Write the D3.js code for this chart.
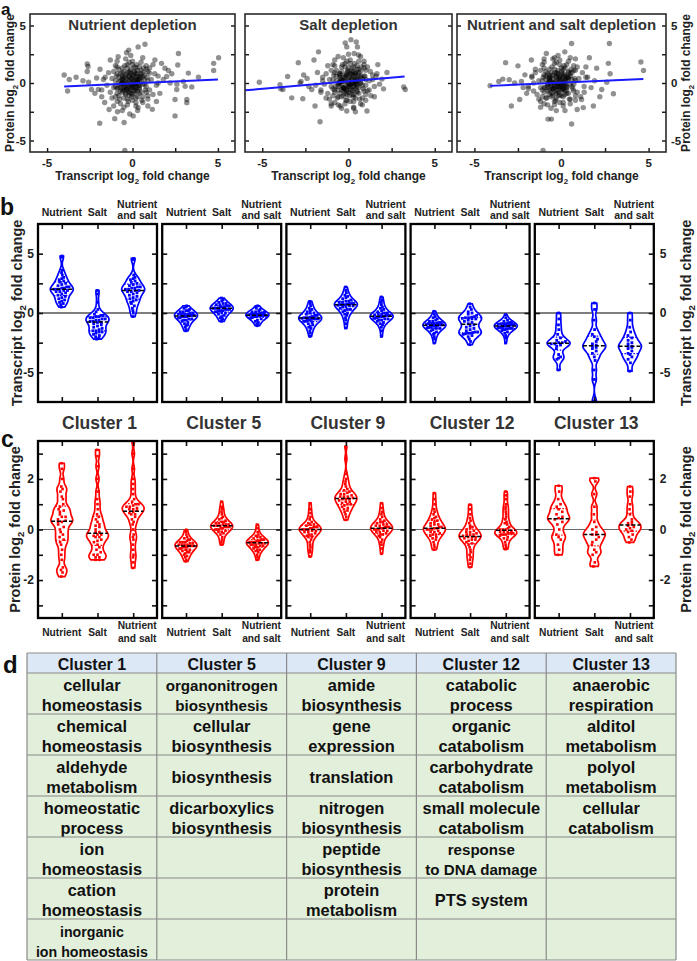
<!DOCTYPE html>
<html><head><meta charset="utf-8">
<script src="https://d3js.org/d3.v7.min.js"></script>
<style>html,body{margin:0;padding:0;background:#fff}svg{display:block}</style>
</head><body>
<svg id="fig" width="697" height="961" font-family="Arial, 'Liberation Sans', Helvetica, sans-serif"></svg>
<script>
// ---------------- DATA ----------------
const scatterTitles = ["Nutrient depletion", "Salt depletion", "Nutrient and salt depletion"];
const scatterTickLabels = [-5, 0, 5];
const scatterMinorTicks = [-5, -2.5, 0, 2.5, 5];

const nutrientPoints = [
[-4.0,0.7],[-3.8,-0.7],[-3.7,0.3],[-3.3,0.5],[-2.65,1.66],[-2.6,1.43],[-2.65,1.0],[-2.57,0.06],[-2.4,-0.57],[-2.1,0.43],[-2.0,-0.57],[-1.92,-3.5],[-1.63,-1.7],[-1.37,-2.3],[-1.04,-3.1],[-0.88,-2.5],[-0.49,-3.43],[-0.45,-5.86],[-0.16,-2.7],[0.04,-2.86],[0.33,-2.14],[0.73,3.37],[-0.35,2.63],[-0.22,2.86],[-0.84,2.29],[1.31,2.0],[1.16,-2.29],[1.7,1.71],[1.9,1.29],[2.1,1.09],[2.0,0.57],[2.2,0.0],[2.49,-1.43],[2.59,-0.57],[2.69,2.57],[2.49,-2.86],[2.65,1.57],[2.98,0.14],[3.18,-1.43],[3.18,-1.71],[3.27,0.86],[3.47,-0.34],[3.86,0.51],[4.75,1.71],[4.75,1.09],[5.04,2.2],[3.08,-0.29],[1.5,0.0],[1.0,0.86],[0.33,3.14],
[-2.2,-0.9],[-1.9,1.2],[-1.7,0.3],[-1.8,-1.2],[1.6,-0.9],[1.8,0.3],[1.4,-1.6],[2.3,0.8],[1.2,1.6],[-1.3,2.0],[0.9,-2.0],[-0.6,-2.4],[2.6,-0.1],[-2.9,0.2],
[-1.2,0.4],[-1.0,-0.3],[-0.9,0.8],[-0.8,-1.1],[-0.7,0.2],[-0.6,1.3],[-0.5,-0.6],[-0.4,0.5],[-0.3,-1.4],[-0.2,0.9],[-0.1,-0.2],[0.0,0.6],[0.1,-0.9],[0.2,0.3],[0.3,1.1],[0.4,-0.5],[0.5,0.1],[0.6,-1.2],[0.7,0.7],[0.8,-0.3],
[-1.3,-0.8],[-1.1,1.0],[-0.9,-1.6],[-0.7,-0.4],[-0.6,0.6],[-0.4,-1.0],[-0.3,1.6],[-0.2,-0.7],[-0.1,1.2],[0.0,-1.5],[0.1,0.9],[0.2,-0.4],[0.3,0.0],[0.4,1.4],[0.5,-0.8],[0.6,0.5],[0.9,1.0],[1.0,-0.6],[1.1,0.3],[1.2,-1.0],
[-0.8,0.1],[-0.5,-0.1],[-0.3,0.3],[-0.1,0.0],[0.1,0.2],[0.2,-0.1],[0.4,0.4],[-0.6,-0.8],[-0.2,-1.1],[0.3,-1.2],[0.0,1.9],[-0.4,2.1],[0.5,1.8],[-1.0,1.5],[0.8,1.5],[-1.5,-0.2],[-1.4,0.9],[1.3,0.8],[1.0,1.3],[-0.7,-1.8],
[0.2,-2.0],[-0.5,-2.1],[0.6,-1.7],[-1.2,-1.3],[0.9,-1.4],[-0.9,-0.5],[-0.4,-0.3],[0.1,-0.6],[0.5,0.8],[0.7,-0.1],[-0.2,0.5],[-0.6,0.0],[0.0,0.2],[-0.3,-0.5],[0.3,0.6],[-0.8,0.5],[0.4,-0.2],[-0.1,-0.9],[0.2,1.3],[-0.5,1.0],
[-1.6,0.5],[-1.8,-0.6],[1.4,-0.2],[1.5,0.6],[-0.1,2.4],[0.3,-2.4],[-1.1,-2.0],[0.9,0.2],[-0.9,1.9],[0.6,2.2],
[-0.6,0.3],[-0.5,-0.4],[-0.4,0.7],[-0.3,-0.2],[-0.2,0.2],[-0.1,-0.6],[0.0,0.4],[0.1,-0.3],[0.2,0.8],[0.3,-0.7],[0.4,0.2],[-0.6,-0.6],[-0.3,0.9],[0.0,-1.0],[0.2,0.0],[-0.4,-0.9],[0.5,0.5],[-0.7,0.8],[0.1,1.0],[-0.2,-0.3],[0.3,0.3],[-0.5,0.5],[0.0,0.0],[-0.1,0.8],[0.2,-0.5],
[-1.0,0.2],[-0.9,-0.9],[-0.8,1.2],[-0.7,-0.2],[-0.6,0.9],[-0.5,-1.3],[-0.4,0.1],[-0.3,1.3],[-0.2,-0.8],[-0.1,0.4],[0.0,-0.4],[0.1,1.4],[0.2,-1.3],[0.3,0.8],[0.4,-0.9],[0.5,1.1],[0.6,-0.1],[0.7,0.3],[0.8,-0.8],[-1.1,-0.4],
[-0.95,0.6],[-0.75,-1.4],[-0.55,0.2],[-0.45,1.5],[-0.35,-0.6],[-0.25,-1.6],[-0.15,1.0],[-0.05,-1.2],[0.05,0.7],[0.15,-0.7],[0.25,1.6],[0.35,-0.2],[0.45,0.6],[0.55,-1.5],[0.65,1.3],[0.75,-0.6],[0.85,0.5],[-0.65,-0.1],[-0.85,-0.4],[0.0,1.6],
[-0.5,0.0],[-0.2,0.6],[0.1,-0.1],[0.3,0.2],[-0.4,-0.5],[-0.1,-0.4],[0.2,0.5],[-0.6,0.4],[0.0,-0.2],[-0.3,0.0],[0.4,-0.4],[-0.7,-0.7],[0.6,0.9],[-0.2,1.8],[0.2,-1.7],[-0.9,1.4],[0.9,-1.1],[-1.0,-1.2],[0.8,1.2],[-0.3,-1.9]
];
const saltPoints = [
[-5.17,0.06],[-3.97,-0.14],[-3.93,-0.51],[-3.8,-0.57],[-3.53,0.57],[-3.29,-1.29],[-2.91,1.77],[-2.81,0.0],[-2.75,0.14],[-2.65,-1.37],[-2.13,-0.57],[-2.0,2.0],[-1.94,-2.0],[-1.8,0.91],[-1.74,2.71],[-1.65,-3.37],[-0.19,3.49],[-0.1,3.14],[0.14,3.77],[0.45,3.57],[0.52,3.14],[0.33,2.57],[0.58,2.43],[1.07,-2.43],[1.26,1.0],[1.65,0.8],[1.94,0.34],[2.03,-0.51],[2.23,0.91],[3.2,-0.34],[3.29,-0.57],[-0.1,-2.43],[-0.48,-2.0],
[-2.4,0.4],[-2.3,-0.3],[-1.6,-0.8],[-1.5,0.2],[-1.9,-0.2],[1.5,-1.2],[1.7,1.6],[1.4,0.3],[1.2,-0.6],[-1.2,1.5],[-1.0,-1.8],[0.9,1.9],[0.8,-1.9],[-0.6,2.3],[0.3,-2.2],[-2.6,0.7],[1.8,-0.1],[-1.3,-1.3],
[-1.1,0.3],[-0.9,-0.5],[-0.8,0.9],[-0.6,-1.2],[-0.5,0.1],[-0.4,1.4],[-0.3,-0.7],[-0.2,0.5],[-0.1,-1.5],[0.0,1.0],[0.1,-0.1],[0.2,0.7],[0.3,-1.0],[0.4,0.2],[0.5,1.2],[0.6,-0.4],[0.7,0.0],[0.8,-1.3],[0.9,0.6],[1.0,-0.2],
[-1.2,-0.9],[-1.0,1.1],[-0.8,-1.7],[-0.6,-0.3],[-0.5,0.7],[-0.3,-1.1],[-0.2,1.7],[-0.1,-0.6],[0.0,1.3],[0.1,-1.6],[0.2,1.0],[0.3,-0.3],[0.4,0.1],[0.5,1.5],[0.6,-0.9],[0.7,0.6],[1.0,1.1],[1.1,-0.7],[1.2,0.2],[1.3,-1.1],
[-0.7,0.2],[-0.4,-0.2],[-0.2,0.2],[0.0,-0.1],[0.2,0.3],[0.3,0.0],[0.5,0.4],[-0.5,-0.9],[-0.1,-1.0],[0.4,-1.3],[0.1,2.0],[-0.3,2.2],[0.6,1.9],[-0.9,1.6],[0.9,1.6],[-1.4,-0.1],[-1.3,0.8],[1.4,0.7],[1.1,1.4],[-0.6,-1.9],
[0.3,-2.1],[-0.4,-2.2],[0.7,-1.8],[-1.1,-1.4],[1.0,-1.5],[-0.8,-0.6],[-0.3,-0.4],[0.2,-0.7],[0.6,0.9],[0.8,-0.2],[-0.1,0.6],[-0.5,0.0],[0.1,0.3],[-0.2,-0.5],[0.4,0.7],[-0.7,0.6],[0.5,-0.1],[0.0,-0.8],[0.3,1.4],[-0.4,1.0],
[-1.5,0.5],[-1.6,-0.6],[1.5,-0.3],[1.6,0.6],[0.0,2.5],[0.4,-2.5],[-1.0,-2.0],[1.0,0.3],[-0.8,2.0],[0.7,2.3],
[-0.4,0.3],[-0.3,-0.4],[-0.2,0.7],[-0.1,-0.2],[0.0,0.2],[0.1,-0.6],[0.2,0.4],[0.3,-0.3],[0.4,0.8],[0.5,-0.7],[0.6,0.2],[-0.4,-0.6],[-0.1,0.9],[0.2,-1.0],[0.4,0.0],[-0.2,-0.9],[0.7,0.5],[-0.5,0.8],[0.3,1.0],[0.0,-0.3],[0.5,0.3],[-0.3,0.5],[0.2,0.0],[0.1,0.8],[0.4,-0.5],
[-0.9,0.3],[-0.8,-0.8],[-0.7,1.1],[-0.6,-0.1],[-0.5,0.8],[-0.4,-1.2],[-0.3,0.2],[-0.2,1.4],[-0.1,-0.7],[0.0,0.5],[0.1,-0.3],[0.2,1.3],[0.3,-1.2],[0.4,0.9],[0.5,-0.8],[0.6,1.2],[0.7,0.0],[0.8,0.4],[0.9,-0.7],[-1.0,-0.3],
[-0.85,0.7],[-0.65,-1.3],[-0.45,0.3],[-0.35,1.6],[-0.25,-0.5],[-0.15,-1.5],[-0.05,1.1],[0.05,-1.1],[0.15,0.8],[0.25,-0.6],[0.35,1.7],[0.45,-0.1],[0.55,0.7],[0.65,-1.4],[0.75,1.4],[0.85,-0.5],[0.95,0.6],[-0.55,0.0],[-0.75,-0.3],[0.1,1.7],
[-0.4,0.1],[-0.1,0.7],[0.2,0.0],[0.4,0.3],[-0.3,-0.4],[0.0,-0.3],[0.3,0.6],[-0.5,0.5],[0.1,-0.1],[-0.2,0.1],[0.5,-0.3],[-0.6,-0.6],[0.7,1.0],[-0.1,1.9],[0.3,-1.6],[-0.8,1.5],[1.0,-1.0],[-0.9,-1.1],[0.9,1.3],[-0.2,-1.8]
];
const bothPoints = [
[-4.1,-0.23],[-3.6,0.14],[-3.37,0.34],[-3.21,1.77],[-2.88,-2.0],[-3.0,0.29],[-2.69,0.0],[-2.5,1.49],[-2.4,-1.43],[-2.3,0.14],[-2.1,0.71],[-1.9,-0.29],[-1.73,2.0],[-0.77,-3.14],[-0.58,-3.14],[-1.06,-5.86],[0.58,-3.57],[0.58,3.43],[-0.87,2.57],[0.19,2.71],[2.02,1.29],[2.69,1.71],[2.75,3.43],[2.98,-0.94],[2.79,0.8],[2.31,-0.57],[2.6,0.06],[4.56,1.83],[4.71,1.09],[1.83,-2.0],[1.25,-2.14],[1.15,-1.43],
[-1.6,-0.7],[-1.7,0.5],[-1.5,1.2],[-2.0,-0.9],[1.5,0.5],[1.7,-0.4],[1.4,1.4],[1.9,0.2],[1.3,-0.8],[-1.2,-1.6],[-1.0,1.8],[0.8,2.1],[0.9,-2.3],[-0.3,-2.4],[2.2,-1.2],[-2.2,-0.4],[1.6,2.2],[-0.4,2.2],
[-1.3,0.2],[-1.1,-0.6],[-1.0,0.7],[-0.9,-1.3],[-0.8,0.0],[-0.7,1.2],[-0.6,-0.8],[-0.5,0.4],[-0.4,-1.6],[-0.3,0.8],[-0.2,-0.3],[-0.1,0.5],[0.0,-1.1],[0.1,0.1],[0.2,1.3],[0.3,-0.6],[0.4,0.3],[0.5,-1.4],[0.6,0.9],[0.7,-0.1],
[-1.4,-1.0],[-1.2,1.1],[-1.0,-1.8],[-0.8,-0.4],[-0.7,0.5],[-0.5,-1.1],[-0.4,1.7],[-0.3,-0.9],[-0.2,1.1],[-0.1,-1.7],[0.0,0.8],[0.1,-0.5],[0.2,-0.1],[0.3,1.6],[0.4,-0.9],[0.5,0.6],[0.8,1.1],[0.9,-0.8],[1.0,0.4],[1.1,-1.2],
[-0.9,0.3],[-0.6,-0.2],[-0.4,0.1],[-0.2,0.0],[0.0,0.3],[0.1,-0.2],[0.3,0.5],[-0.7,-1.0],[-0.3,-1.3],[0.2,-1.0],[-0.1,2.0],[-0.5,2.1],[0.4,1.9],[-1.1,1.6],[0.7,1.5],[-1.6,0.0],[-1.5,0.9],[1.2,0.9],[0.9,1.4],[-0.8,-1.9],
[0.1,-2.0],[-0.6,-2.2],[0.5,-1.8],[-1.3,-1.4],[0.8,-1.5],[-1.0,-0.4],[-0.5,-0.5],[0.0,-0.6],[0.4,0.9],[0.6,-0.3],[-0.3,0.6],[-0.7,0.1],[-0.1,0.2],[-0.4,-0.4],[0.2,0.6],[-0.9,0.6],[0.3,-0.3],[-0.2,-0.8],[0.1,1.2],[-0.6,0.9],
[-1.7,0.6],[-1.9,-0.5],[1.3,-0.3],[1.4,0.5],[-0.2,2.4],[0.2,-2.4],[-1.2,-2.1],[0.8,0.2],[-1.0,2.1],[0.5,2.2],
[-0.7,0.3],[-0.6,-0.4],[-0.5,0.7],[-0.4,-0.2],[-0.3,0.2],[-0.2,-0.6],[-0.1,0.4],[0.0,-0.3],[0.1,0.8],[0.2,-0.7],[0.3,0.2],[-0.7,-0.6],[-0.4,0.9],[-0.1,-1.0],[0.1,0.0],[-0.5,-0.9],[0.4,0.5],[-0.8,0.8],[0.0,1.0],[-0.3,-0.3],[0.2,0.3],[-0.6,0.5],[-0.1,0.0],[-0.2,0.8],[0.1,-0.5],
[-1.1,0.2],[-1.0,-0.8],[-0.9,1.0],[-0.8,-0.2],[-0.7,0.7],[-0.6,-1.2],[-0.5,0.0],[-0.4,1.2],[-0.3,-0.7],[-0.2,0.4],[-0.1,-0.4],[0.0,1.3],[0.1,-1.2],[0.2,0.7],[0.3,-0.9],[0.4,1.0],[0.5,-0.1],[0.6,0.3],[0.7,-0.7],[-1.2,-0.4],
[-1.05,0.5],[-0.85,-1.3],[-0.65,0.2],[-0.55,1.4],[-0.45,-0.5],[-0.35,-1.5],[-0.25,0.9],[-0.15,-1.1],[-0.05,0.6],[0.05,-0.6],[0.15,1.5],[0.25,-0.2],[0.35,0.5],[0.45,-1.4],[0.55,1.2],[0.65,-0.5],[0.75,0.4],[-0.75,-0.1],[-0.95,-0.4],[-0.1,1.6],
[-0.6,0.0],[-0.3,0.5],[0.0,-0.1],[0.2,0.2],[-0.5,-0.5],[-0.2,-0.3],[0.1,0.5],[-0.7,0.4],[-0.1,-0.2],[-0.4,0.0],[0.3,-0.4],[-0.8,-0.7],[0.5,0.8],[-0.3,1.8],[0.1,-1.7],[-1.0,1.3],[0.8,-1.1],[-1.1,-1.2],[0.7,1.1],[-0.4,-1.9]
];
// fitted regression lines: [xStart, yStart, xEnd, yEnd]
const fitLines = [[-4.0,-0.3,5.0,0.3],[-6.0,-0.64,3.25,0.57],[-4.1,-0.25,4.7,0.35]];

const conditions = ["Nutrient", "Salt", "Nutrient and salt"];
const clusters = ["Cluster 1", "Cluster 5", "Cluster 9", "Cluster 12", "Cluster 13"];

// Transcript log2 fold change per gene: [Nutrient, Salt, Nutrient and salt]
const transcriptCluster1 = [
 [4.8,4.7,3.6,3.4,3.2,3.0,2.9,2.8,2.7,2.6,2.5,2.4,2.3,2.2,2.2,2.1,2.1,2.0,2.0,2.0,1.9,1.9,1.8,1.8,1.7,1.6,1.5,1.4,1.3,1.2,1.1,1.0,0.9,0.8,0.7,0.5],
 [1.9,1.6,0.9,0.3,0.1,-0.1,-0.2,-0.3,-0.3,-0.4,-0.4,-0.5,-0.5,-0.6,-0.6,-0.7,-0.7,-0.8,-0.8,-0.9,-1.0,-1.1,-1.2,-1.3,-1.4,-1.5,-1.5,-1.6,-1.6,-1.7,-1.8,-1.9,-2.0,-2.1,-2.2,-0.2],
 [4.6,4.5,3.2,3.0,2.9,2.8,2.7,2.6,2.5,2.4,2.3,2.2,2.2,2.1,2.1,2.0,2.0,1.9,1.9,1.8,1.8,1.7,1.6,1.5,1.4,1.3,1.2,1.1,1.0,0.9,0.8,0.6,0.4,0.2,0.0,-0.3]];
const transcriptCluster5 = [
 [0.6,0.5,0.4,0.3,0.2,0.1,0.1,0.0,0.0,-0.1,-0.1,-0.1,-0.2,-0.2,-0.2,-0.2,-0.3,-0.3,-0.3,-0.4,-0.4,-0.5,-0.5,-0.6,-0.6,-0.7,-0.8,-0.9,-1.0,-1.1,-1.2,-1.4,-1.5,0.2,-0.3,-0.1],
 [1.26,1.1,1.0,0.9,0.8,0.8,0.7,0.7,0.6,0.6,0.5,0.5,0.5,0.4,0.4,0.4,0.3,0.3,0.3,0.2,0.2,0.1,0.1,0.0,0.0,-0.1,-0.2,-0.3,-0.4,-0.5,-0.6,-0.7,0.4,0.6,0.2,0.5],
 [0.6,0.4,0.3,0.2,0.1,0.1,0.0,0.0,0.0,-0.1,-0.1,-0.1,-0.1,-0.2,-0.2,-0.2,-0.2,-0.3,-0.3,-0.3,-0.4,-0.4,-0.5,-0.6,-0.7,-0.8,-0.9,-1.0,-1.07,-0.15,-0.05,-0.25,0.05,-0.35,-0.1,-0.2]];
const transcriptCluster9 = [
 [0.98,0.8,0.6,0.4,0.3,0.2,0.1,0.0,0.0,-0.1,-0.2,-0.2,-0.3,-0.3,-0.4,-0.4,-0.4,-0.5,-0.5,-0.5,-0.6,-0.6,-0.7,-0.7,-0.8,-0.9,-1.0,-1.1,-1.2,-1.3,-1.5,-1.7,-1.97,-0.45,-0.35,-0.55],
 [2.19,1.9,1.7,1.5,1.4,1.3,1.2,1.1,1.0,1.0,0.9,0.9,0.8,0.8,0.8,0.7,0.7,0.7,0.6,0.6,0.5,0.5,0.4,0.3,0.3,0.2,0.1,0.0,-0.1,-0.2,-0.4,-0.6,-0.9,-1.27,0.75,0.65],
 [1.35,1.1,0.9,0.7,0.5,0.4,0.3,0.2,0.1,0.0,0.0,-0.1,-0.1,-0.2,-0.2,-0.2,-0.3,-0.3,-0.3,-0.4,-0.4,-0.5,-0.5,-0.6,-0.6,-0.7,-0.8,-0.9,-1.0,-1.2,-1.5,-1.97,-0.25,-0.35,-0.15,-0.45]];
const transcriptCluster12 = [
 [0.14,-0.1,-0.3,-0.4,-0.5,-0.6,-0.7,-0.7,-0.8,-0.8,-0.9,-0.9,-0.9,-1.0,-1.0,-1.0,-1.1,-1.1,-1.1,-1.2,-1.2,-1.3,-1.3,-1.4,-1.5,-1.6,-1.7,-1.8,-2.0,-2.2,-2.53,-0.95,-1.05,-1.15,-0.85,-1.25],
 [0.78,0.5,0.3,0.1,0.0,-0.1,-0.2,-0.3,-0.4,-0.4,-0.5,-0.5,-0.6,-0.7,-0.8,-0.9,-1.0,-1.1,-1.2,-1.3,-1.4,-1.5,-1.6,-1.6,-1.7,-1.7,-1.8,-1.9,-2.0,-2.2,-2.4,-2.67,-0.45,-0.35,-1.65,-1.75],
 [-0.14,-0.4,-0.6,-0.7,-0.8,-0.8,-0.9,-0.9,-0.9,-1.0,-1.0,-1.0,-1.0,-1.1,-1.1,-1.1,-1.1,-1.2,-1.2,-1.2,-1.3,-1.3,-1.4,-1.4,-1.5,-1.6,-1.7,-1.9,-2.1,-2.53,-1.05,-0.95,-1.15,-1.25,-0.85,-1.35]];
const transcriptCluster13 = [
 [0.0,-0.5,-1.0,-1.4,-1.8,-2.1,-2.3,-2.4,-2.5,-2.5,-2.6,-2.6,-2.7,-2.8,-3.0,-3.5,-3.7,-3.8,-3.9,-4.8],
 [0.84,0.3,-0.6,-1.4,-1.8,-2.0,-2.2,-2.4,-2.6,-2.7,-2.8,-2.9,-3.0,-3.2,-3.4,-3.7,-4.0,-4.8,-5.6,-7.4],
 [0.0,-0.6,-1.2,-1.6,-1.9,-2.1,-2.3,-2.5,-2.6,-2.8,-2.8,-2.9,-3.0,-3.2,-3.4,-3.5,-3.7,-3.9,-4.2,-4.9]];

// Protein log2 fold change per gene: [Nutrient, Salt, Nutrient and salt]
const proteinCluster1 = [
 [2.62,2.4,2.0,1.7,1.6,1.5,1.3,1.2,1.0,0.9,0.8,0.7,0.6,0.5,0.5,0.4,0.3,0.3,0.2,0.1,0.0,-0.1,-0.2,-0.3,-0.4,-0.5,-0.6,-0.8,-1.0,-1.2,-1.5,-1.6,-1.7,-1.86,0.35,0.75],
 [3.15,2.9,2.5,2.0,1.5,1.2,1.0,0.8,0.6,0.5,0.4,0.3,0.2,0.1,0.0,-0.1,-0.1,-0.2,-0.2,-0.3,-0.3,-0.4,-0.5,-0.6,-0.7,-0.8,-0.9,-1.0,-1.0,-1.1,-1.1,-1.2,-1.2,0.15,-0.25,-0.45],
 [3.48,3.0,2.4,2.0,1.8,1.6,1.4,1.2,1.1,1.0,1.0,0.9,0.9,0.8,0.8,0.7,0.6,0.6,0.5,0.4,0.3,0.2,0.0,-0.2,-0.3,-0.4,-0.6,-0.8,-1.0,-1.1,-1.3,-1.52,0.95,0.85,0.65,0.75]];
const proteinCluster5 = [
 [-0.01,-0.1,-0.2,-0.3,-0.35,-0.4,-0.45,-0.5,-0.5,-0.55,-0.6,-0.6,-0.6,-0.65,-0.65,-0.7,-0.7,-0.7,-0.75,-0.8,-0.8,-0.85,-0.9,-0.95,-1.0,-1.05,-1.1,-1.2,-1.26,-0.55,-0.75,-0.5,-0.4,-0.9,-0.65,-0.6],
 [1.1,0.9,0.8,0.7,0.6,0.5,0.45,0.4,0.35,0.3,0.25,0.2,0.2,0.15,0.15,0.1,0.1,0.05,0.0,0.0,-0.05,-0.1,-0.15,-0.2,-0.3,-0.4,-0.5,-0.6,0.25,0.1,0.3,0.05,0.2,-0.1,0.15,0.0],
 [0.19,0.05,-0.1,-0.2,-0.25,-0.3,-0.35,-0.4,-0.4,-0.45,-0.45,-0.5,-0.5,-0.5,-0.55,-0.55,-0.6,-0.6,-0.65,-0.7,-0.7,-0.75,-0.8,-0.85,-0.9,-1.0,-1.1,-1.2,-0.5,-0.4,-0.6,-0.3,-0.55,-0.65,-0.45,-0.8]];
const proteinCluster9 = [
 [1.04,0.8,0.65,0.5,0.4,0.3,0.25,0.2,0.15,0.1,0.1,0.05,0.0,0.0,0.0,-0.05,-0.1,-0.1,-0.15,-0.2,-0.25,-0.3,-0.4,-0.5,-0.6,-0.7,-0.8,-0.9,-1.07,0.05,-0.05,0.1,0.2,-0.2,0.0,-0.3],
 [3.28,2.8,2.2,2.0,1.9,1.8,1.7,1.6,1.55,1.5,1.45,1.4,1.35,1.3,1.3,1.25,1.2,1.2,1.15,1.1,1.05,1.0,0.95,0.9,0.85,0.8,0.75,0.7,0.6,0.5,0.38,1.3,1.1,1.4,1.2,1.0],
 [1.04,0.85,0.7,0.6,0.5,0.4,0.35,0.3,0.25,0.2,0.15,0.1,0.1,0.05,0.05,0.0,0.0,-0.05,-0.1,-0.15,-0.2,-0.25,-0.3,-0.4,-0.5,-0.6,-0.75,-0.96,0.1,0.2,-0.1,0.0,0.3,-0.2,0.15,-0.05]];
const proteinCluster12 = [
 [1.44,1.2,1.0,0.8,0.7,0.6,0.5,0.45,0.4,0.35,0.3,0.25,0.2,0.15,0.1,0.05,0.0,0.0,-0.05,-0.1,-0.15,-0.2,-0.25,-0.3,-0.35,-0.4,-0.5,-0.6,-0.7,-0.8,0.1,0.0,-0.1,0.2,-0.2,0.05],
 [0.98,0.8,0.6,0.45,0.35,0.25,0.15,0.1,0.05,0.0,-0.05,-0.1,-0.15,-0.2,-0.2,-0.25,-0.3,-0.3,-0.35,-0.4,-0.45,-0.5,-0.55,-0.6,-0.7,-0.8,-0.9,-1.0,-1.1,-1.2,-1.35,-1.49,-0.2,-0.3,-0.1,-0.4],
 [1.5,1.35,1.2,1.0,0.9,0.8,0.7,0.6,0.5,0.4,0.3,0.25,0.2,0.1,0.05,0.0,0.0,-0.05,-0.1,-0.1,-0.15,-0.15,-0.2,-0.2,-0.25,-0.3,-0.35,-0.4,-0.5,-0.6,-0.7,-0.78,-0.1,-0.2,0.0,-0.15]];
const proteinCluster13 = [
 [1.73,1.5,1.2,1.0,0.9,0.8,0.7,0.6,0.5,0.45,0.4,0.3,0.2,0.0,-0.2,-0.3,-0.4,-0.6,-0.8,-1.0],
 [2.03,1.9,1.4,0.9,0.6,0.3,0.1,0.0,-0.1,-0.2,-0.2,-0.3,-0.4,-0.5,-0.6,-0.8,-0.9,-1.0,-1.3,-1.46],
 [1.7,1.5,1.3,1.0,0.8,0.6,0.4,0.3,0.25,0.2,0.15,0.1,0.05,0.0,-0.05,-0.1,-0.2,-0.3,-0.4,-0.51]];

const transcriptTicks = [-5, -2.5, 0, 2.5, 5], transcriptTickLabels = [-5, 0, 5];
const proteinTicks = [-3, -2, -1, 0, 1, 2, 3], proteinTickLabels = [-2, 0, 2];

// Enriched terms (panel d)
const cluster1Terms = ["cellular\nhomeostasis","chemical\nhomeostasis","aldehyde\nmetabolism","homeostatic\nprocess","ion\nhomeostasis","cation\nhomeostasis","inorganic\nion homeostasis"];
const cluster5Terms = ["organonitrogen\nbiosynthesis","cellular\nbiosynthesis","biosynthesis","dicarboxylics\nbiosynthesis","","",""];
const cluster9Terms = ["amide\nbiosynthesis","gene\nexpression","translation","nitrogen\nbiosynthesis","peptide\nbiosynthesis","protein\nmetabolism",""];
const cluster12Terms = ["catabolic\nprocess","organic\ncatabolism","carbohydrate\ncatabolism","small molecule\ncatabolism","response\nto DNA damage","PTS system",""];
const cluster13Terms = ["anaerobic\nrespiration","alditol\nmetabolism","polyol\nmetabolism","cellular\ncatabolism","","",""];

// ---------------- DRAWING ----------------
const svg = d3.select("#fig");
const ink = "#222";
const defs = svg.append("defs");

function log2Text(g, x, y, rot, prefix, size) {
  const t = g.append("text").attr("transform", `translate(${x},${y}) rotate(${rot})`)
    .attr("text-anchor", "middle").attr("font-size", size).attr("font-weight", "bold").attr("fill", ink);
  t.append("tspan").text(prefix + " log");
  t.append("tspan").attr("dy", size * 0.3).attr("font-size", size * 0.66).text("2");
  t.append("tspan").attr("dy", -size * 0.3).text(" fold change");
}
function panelLetter(ch, x, y, size) {
  svg.append("text").attr("x", x).attr("y", y).attr("font-size", size).attr("font-weight", "bold").attr("fill", "#111").text(ch);
}
function styleTicks(sel, w) {
  sel.select(".domain").remove();
  sel.selectAll(".tick line").attr("stroke", "#111").attr("stroke-width", w);
}

// ----- Panel a -----
const aBoxes = [[30, 235], [245, 452], [457, 666]], aTop = 14, aBottom = 152;
const aY = d3.scaleLinear().domain([-6, 6]).range([aBottom, aTop]);
[nutrientPoints, saltPoints, bothPoints].forEach((pts, i) => {
  const [l, r] = aBoxes[i];
  const x = d3.scaleLinear().domain([-6, 6]).range([l, r]);
  const g = svg.append("g");
  defs.append("clipPath").attr("id", "clipA" + i).append("rect")
    .attr("x", l).attr("y", aTop).attr("width", r - l).attr("height", aBottom - aTop);
  g.append("g").attr("clip-path", `url(#clipA${i})`).selectAll("circle").data(pts).join("circle")
    .attr("cx", d => x(d[0])).attr("cy", d => aY(d[1])).attr("r", 2.7)
    .attr("fill", "#000").attr("fill-opacity", 0.43);
  const f = fitLines[i];
  g.append("line").attr("x1", x(f[0])).attr("y1", aY(f[1])).attr("x2", x(f[2])).attr("y2", aY(f[3]))
    .attr("stroke", "#1a1aff").attr("stroke-width", 2);
  g.append("g").attr("transform", `translate(0,${aBottom})`)
    .call(d3.axisTop(x).tickValues(scatterMinorTicks).tickSize(4).tickFormat("")).call(s => styleTicks(s, 1.4));
  g.append("g").attr("transform", `translate(${l},0)`)
    .call(d3.axisRight(aY).tickValues(scatterMinorTicks).tickSize(4).tickFormat("")).call(s => styleTicks(s, 1.4));
  g.append("g").attr("transform", `translate(${r},0)`)
    .call(d3.axisLeft(aY).tickValues(scatterMinorTicks).tickSize(4).tickFormat("")).call(s => styleTicks(s, 1.4));
  g.append("rect").attr("x", l).attr("y", aTop).attr("width", r - l).attr("height", aBottom - aTop)
    .attr("fill", "none").attr("stroke", "#2a2a2a").attr("stroke-width", 1.6);
  g.selectAll(".xl").data(scatterTickLabels).join("text").attr("x", d => x(d)).attr("y", 166.5)
    .attr("text-anchor", "middle").attr("font-size", 11.5).attr("font-weight", "bold").attr("fill", ink).text(d => d);
  g.append("text").attr("x", (l + r) / 2).attr("y", 29.5).attr("text-anchor", "middle")
    .attr("font-size", 15).attr("font-weight", "bold").attr("fill", "#333").text(scatterTitles[i]);
  log2Text(g, (l + r) / 2, 180, 0, "Transcript", 12);
  if (i === 0) {
    g.selectAll(".yl").data(scatterTickLabels).join("text").attr("x", 26).attr("y", d => aY(d) + 4)
      .attr("text-anchor", "end").attr("font-size", 11.5).attr("font-weight", "bold").attr("fill", ink).text(d => d);
    log2Text(g, 14, (aTop + aBottom) / 2, -90, "Protein", 12);
  }
  if (i === 2) {
    g.selectAll(".yr").data(scatterTickLabels).join("text").attr("x", 671).attr("y", d => aY(d) + 4)
      .attr("text-anchor", "start").attr("font-size", 11.5).attr("font-weight", "bold").attr("fill", ink).text(d => d);
    log2Text(g, 690, (aTop + aBottom) / 2, -90, "Protein", 12);
  }
});
panelLetter("a", 1, 15, 17);

// ----- Violin rows (b, c) -----
const panelLeft = i => 38 + i * 124.2, panelW = 119;
function violinRow(o) {
  const y = d3.scaleLinear().domain(o.domain).range([o.bottom, o.top]);
  o.data.forEach((groups, ci) => {
    const l = panelLeft(ci), r = l + panelW;
    const x = d3.scalePoint().domain(conditions).range([l, r]).padding(0.667);
    const g = svg.append("g");
    g.append("line").attr("x1", l).attr("x2", r).attr("y1", y(0)).attr("y2", y(0))
      .attr("stroke", o.zeroColor).attr("stroke-width", 1.1);
    groups.forEach((vals, k) => {
      const cx = x(conditions[k]);
      const lo = d3.min(vals), hi = d3.max(vals), N = 80;
      const grid = d3.range(N + 1).map(j => lo + (hi - lo) * j / N);
      const dens = grid.map(v => d3.sum(vals, u => Math.exp(-0.5 * ((v - u) / o.bw) ** 2)));
      const m = d3.max(dens);
      const prof = grid.map((v, j) => [v, o.maxW * dens[j] / m]);
      const widthAt = v => {
        const j = Math.max(0, Math.min(N - 1, Math.floor((v - lo) / (hi - lo) * N)));
        const t = Math.max(0, Math.min(1, (v - grid[j]) / (grid[j + 1] - grid[j])));
        return prof[j][1] * (1 - t) + prof[j + 1][1] * t;
      };
      g.append("path").datum(prof)
        .attr("d", d3.area().curve(d3.curveBasis).y(d => y(d[0])).x0(d => cx - d[1]).x1(d => cx + d[1]))
        .attr("fill", "#fff").attr("stroke", o.color).attr("stroke-width", 1.7);
      const sorted = vals.slice().sort((a, b) => a - b);
      const pts = sorted.map((v, i) => ({ v, i, py: y(v) }));
      const bins = d3.group(pts, d => Math.round(d.py / 3.2));
      bins.forEach(arr => {
        const n = arr.length;
        arr.forEach((d, j) => {
          const w = Math.max(0.5, widthAt(d.v) - 2.2);
          let off;
          if (n === 1) off = (((d.i * 3) % 5) - 2) / 2 * w * 0.55;
          else off = (j - (n - 1) / 2) * Math.min(3.8, 2 * w / n);
          d.px = cx + Math.max(-w, Math.min(w, off));
        });
      });
      const ps = o.ptSize;
      g.selectAll(null).data(pts).join("rect")
        .attr("x", d => d.px - ps / 2).attr("y", d => d.py - ps / 2).attr("width", ps).attr("height", ps)
        .attr("fill", o.color);
      const q1 = d3.quantile(sorted, 0.25), md = d3.quantile(sorted, 0.5), q3 = d3.quantile(sorted, 0.75);
      [q1, q3].forEach(q => {
        const w = widthAt(q);
        g.append("line").attr("x1", cx - w).attr("x2", cx + w).attr("y1", y(q)).attr("y2", y(q))
          .attr("stroke", o.color).attr("stroke-width", 1.2).attr("stroke-dasharray", "1.5,1.5");
      });
      const wm = widthAt(md);
      g.append("line").attr("x1", cx - wm).attr("x2", cx + wm).attr("y1", y(md)).attr("y2", y(md))
        .attr("stroke", "#000").attr("stroke-width", 1.5).attr("stroke-dasharray", "4,2");
    });
    g.append("g").attr("transform", `translate(${l},0)`)
      .call(d3.axisRight(y).tickValues(o.ticks).tickSize(5).tickFormat("")).call(s => styleTicks(s, 1.6));
    g.append("g").attr("transform", `translate(${r},0)`)
      .call(d3.axisLeft(y).tickValues(o.ticks).tickSize(5).tickFormat("")).call(s => styleTicks(s, 1.6));
    g.append("g").attr("transform", `translate(0,${o.top})`)
      .call(d3.axisBottom(x).tickSize(5).tickFormat("")).call(s => styleTicks(s, 1.6));
    g.append("g").attr("transform", `translate(0,${o.bottom})`)
      .call(d3.axisTop(x).tickSize(5).tickFormat("")).call(s => styleTicks(s, 1.6));
    g.append("rect").attr("x", l).attr("y", o.top).attr("width", panelW).attr("height", o.bottom - o.top)
      .attr("fill", "none").attr("stroke", "#000").attr("stroke-width", 2.3);
    conditions.forEach((c, k) => {
      const t = g.append("text").attr("text-anchor", "middle").attr("font-size", o.catSize)
        .attr("font-weight", "bold").attr("fill", ink);
      if (k < 2) t.attr("x", x(c)).attr("y", o.catY).text(c);
      else {
        ["Nutrient", "and salt"].forEach((p, pi) => t.append("tspan").attr("x", x(c) + 4).attr("y", o.catY2[pi]).text(p));
      }
    });
    if (o.titles) {
      g.append("text").attr("x", l + panelW / 2 + 2).attr("y", o.titleY).attr("text-anchor", "middle")
        .attr("font-size", 17.5).attr("font-weight", "bold").attr("fill", "#333").text(o.titles[ci]);
    }
    if (ci === 0) {
      g.selectAll(null).data(o.tickLabels).join("text").attr("x", l - 4).attr("y", d => y(d) + 4.3)
        .attr("text-anchor", "end").attr("font-size", 12).attr("font-weight", "bold").attr("fill", ink).text(d => d);
      log2Text(g, o.leftTitleX, (o.top + o.bottom) / 2, -90, o.axisTitle, 14.5);
    }
    if (ci === o.data.length - 1) {
      g.selectAll(null).data(o.tickLabels).join("text").attr("x", r + 6).attr("y", d => y(d) + 4.3)
        .attr("text-anchor", "start").attr("font-size", 12).attr("font-weight", "bold").attr("fill", ink).text(d => d);
      log2Text(g, 691, (o.top + o.bottom) / 2, -90, o.axisTitle, 14.5);
    }
  });
}

violinRow({
  top: 224, bottom: 402, domain: [-7.5, 7.5], ticks: transcriptTicks, tickLabels: transcriptTickLabels,
  data: [transcriptCluster1, transcriptCluster5, transcriptCluster9, transcriptCluster12, transcriptCluster13],
  color: "#0000ff", bw: 0.3, maxW: 11.5, zeroColor: "#000", ptSize: 2.8,
  catY: 216, catY2: [207.5, 218.5], catSize: 10.5, axisTitle: "Transcript", leftTitleX: 21.5
});
violinRow({
  top: 441, bottom: 618, domain: [-3.5, 3.5], ticks: proteinTicks, tickLabels: proteinTickLabels,
  data: [proteinCluster1, proteinCluster5, proteinCluster9, proteinCluster12, proteinCluster13],
  color: "#ff0000", bw: 0.13, maxW: 11, zeroColor: "#666", ptSize: 2.6,
  catY: 636, catY2: [629, 641.5], catSize: 10.2, axisTitle: "Protein", leftTitleX: 19.5,
  titles: clusters, titleY: 429
});
panelLetter("b", 0, 215, 23);
panelLetter("c", 1, 447, 23);

// ----- Panel d: table -----
const termColumns = [cluster1Terms, cluster5Terms, cluster9Terms, cluster12Terms, cluster13Terms];
const tLeft = 27, tRight = 676, tTop = 653, headH = 20, rowH = 41;
const colX = d3.scaleBand().domain(clusters).range([tLeft, tRight]);
const nRows = cluster1Terms.length;
const tg = svg.append("g");
tg.append("rect").attr("x", tLeft).attr("y", tTop).attr("width", tRight - tLeft).attr("height", headH).attr("fill", "#dce8f5");
tg.append("rect").attr("x", tLeft).attr("y", tTop + headH).attr("width", tRight - tLeft).attr("height", rowH * nRows).attr("fill", "#e2efda");
clusters.forEach((c, ci) => {
  const cx = colX(c) + colX.bandwidth() / 2;
  tg.append("text").attr("x", cx).attr("y", tTop + 16.5).attr("text-anchor", "middle")
    .attr("font-size", 16).attr("font-weight", "bold").attr("fill", "#111").text(c);
  termColumns[ci].forEach((term, ri) => {
    if (!term) return;
    const lines = term.split("\n");
    const mid = tTop + headH + ri * rowH + rowH / 2;
    const t = tg.append("text").attr("text-anchor", "middle").attr("font-size", 16.4)
      .attr("font-weight", "bold").attr("fill", "#111");
    lines.forEach((ln, li) => {
      t.append("tspan").attr("x", cx).attr("y", mid + 7.4 + (li - (lines.length - 1) / 2) * 19.5).text(ln);
    });
    let maxLen = 0;
    t.selectAll("tspan").each(function () { maxLen = Math.max(maxLen, this.getComputedTextLength()); });
    if (maxLen > 118) t.attr("font-size", 16.4 * 112 / maxLen);
  });
});
const gridC = "#8a8a8a";
d3.range(nRows + 2).forEach(k => {
  const yy = k === 0 ? tTop : tTop + headH + (k - 1) * rowH;
  tg.append("line").attr("x1", tLeft).attr("x2", tRight).attr("y1", yy).attr("y2", yy).attr("stroke", gridC).attr("stroke-width", 1.2);
});
clusters.concat(["end"]).forEach((c, k) => {
  const xx = k < clusters.length ? colX(c) : tRight;
  tg.append("line").attr("x1", xx).attr("x2", xx).attr("y1", tTop).attr("y2", tTop + headH + rowH * nRows)
    .attr("stroke", gridC).attr("stroke-width", 1.2);
});
panelLetter("d", 3, 673, 24);
</script>
</body></html>
